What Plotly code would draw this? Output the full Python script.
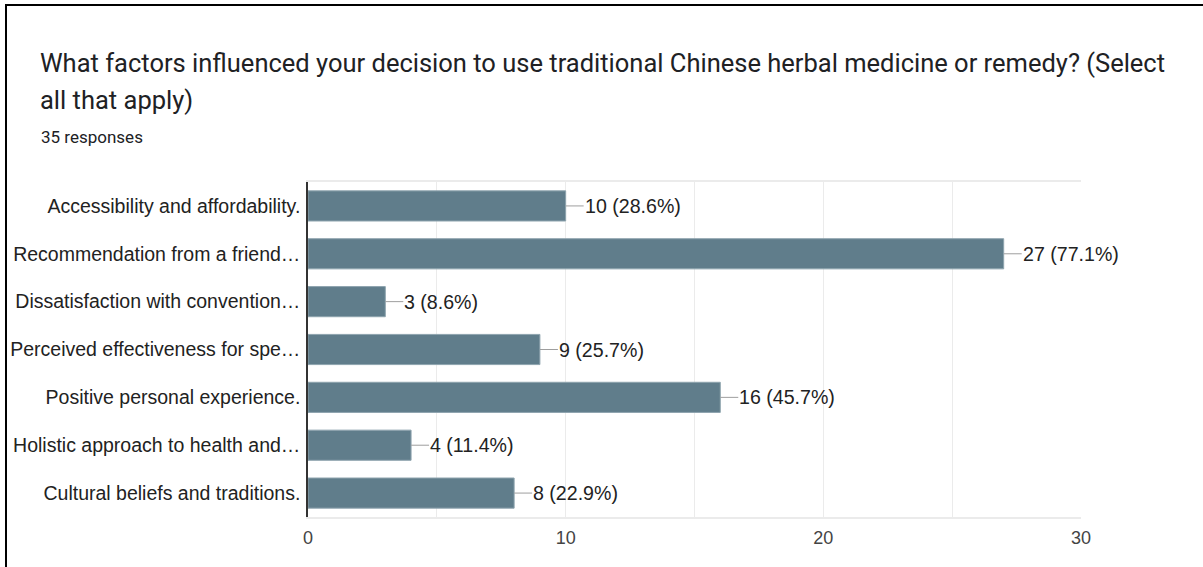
import plotly.graph_objects as go

# Survey answers (top to bottom) and response counts
categories = [
    "Accessibility and affordability.",
    "Recommendation from a friend…",
    "Dissatisfaction with convention…",
    "Perceived effectiveness for spe…",
    "Positive personal experience.",
    "Holistic approach to health and…",
    "Cultural beliefs and traditions.",
]
counts = [10, 27, 3, 9, 16, 4, 8]
percents = ["28.6%", "77.1%", "8.6%", "25.7%", "45.7%", "11.4%", "22.9%"]
total_responses = 35

title_lines = [
    "What factors influenced your decision to use traditional Chinese herbal medicine or remedy? (Select",
    "all that apply)",
]
subtitle = f"{total_responses} responses"
x_ticks = [0, 10, 20, 30]

W, H = 1203, 567
ML, MR, MT, MB = 308, 122, 182, 50
PW, PH = W - ML - MR, H - MT - MB

BAR = "#607d8b"
LABEL_FONT = "Liberation Sans, Arial, sans-serif"
TITLE_FONT = "Roboto, sans-serif"

fig = go.Figure(
    go.Bar(
        x=counts,
        y=categories,
        orientation="h",
        marker=dict(color=BAR, line=dict(color="#8ea4ae", width=1)),
        hoverinfo="skip",
    )
)

# value labels with a short grey leader line from the bar end
for c, y, p in zip(counts, categories, percents):
    fig.add_annotation(
        x=c, y=y, xref="x", yref="y",
        text=f"{c} ({p})",
        showarrow=True, arrowhead=0, arrowwidth=1, arrowcolor="#9e9e9e",
        ax=18, ay=0, axref="pixel", ayref="pixel",
        xanchor="left", yanchor="middle", borderpad=0,
        font=dict(family=LABEL_FONT, size=19.6, color="#222222"),
    )

def px_x(p):
    return (p - ML) / PW

def px_y(p):
    return (H - MB - p) / PH

# heading text
for line, yc in zip(title_lines, [63, 100]):
    fig.add_annotation(
        x=px_x(38), y=px_y(yc), xref="paper", yref="paper",
        text=line, showarrow=False, xanchor="left", yanchor="middle",
        font=dict(family=TITLE_FONT, size=25.5, color="#202124"),
    )
fig.add_annotation(
    x=px_x(39), y=px_y(137), xref="paper", yref="paper",
    text=subtitle, showarrow=False, xanchor="left", yanchor="middle",
    font=dict(family=TITLE_FONT, size=17, color="#202124"),
)

# black frame along the top and left edges
fig.add_shape(type="line", xref="paper", yref="paper",
              x0=px_x(5), x1=px_x(W + 5), y0=px_y(5), y1=px_y(5),
              line=dict(color="black", width=2))
fig.add_shape(type="line", xref="paper", yref="paper",
              x0=px_x(6), x1=px_x(6), y0=px_y(5), y1=px_y(H + 5),
              line=dict(color="black", width=2))

fig.update_layout(
    width=W, height=H,
    margin=dict(l=ML, r=MR, t=MT, b=MB, autoexpand=False),
    paper_bgcolor="white", plot_bgcolor="white",
    bargap=0.37,
    showlegend=False,
    font=dict(family=LABEL_FONT, size=19.5, color="#222222"),
)
fig.update_xaxes(
    automargin=False,
    range=[0, 30], tickvals=x_ticks, ticktext=[str(t) for t in x_ticks],
    showgrid=True, gridcolor="#ebebeb", gridwidth=1,
    minor=dict(dtick=5, tick0=0, showgrid=True, gridcolor="#ebebeb", gridwidth=1),
    showline=True, linecolor="#ebebeb", linewidth=2, mirror=True,
    zeroline=False, ticks="", ticklabelstandoff=3,
    tickfont=dict(family=LABEL_FONT, size=18, color="#444444"),
)
fig.update_yaxes(
    automargin=False,
    autorange="reversed",
    showline=True, linecolor="#333333", linewidth=1.5,
    showgrid=False, ticks="", ticklabelstandoff=2,
    tickfont=dict(family=LABEL_FONT, size=19.5, color="#222222"),
)

fig.write_html("out.html")
